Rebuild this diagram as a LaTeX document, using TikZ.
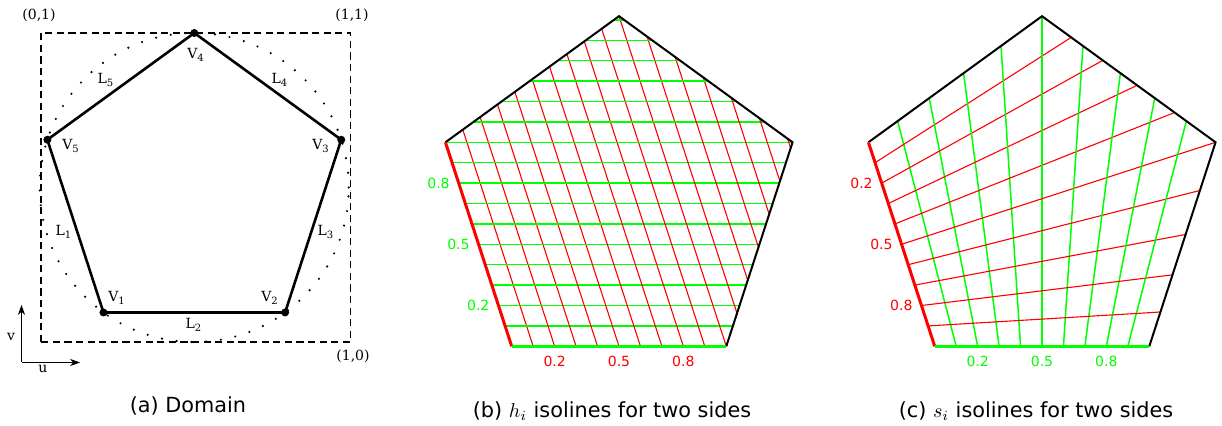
\documentclass[tikz,border=0pt]{standalone}
\usepackage{fontspec}
\setmainfont{DejaVu Sans}
\newfontfamily\lblfont{DejaVu Serif}
\usetikzlibrary{calc,arrows.meta,positioning}

\tikzset{
  sqline/.style={line width=0.9pt, dash pattern=on 3.6pt off 2.2pt},
  circline/.style={line width=1.2pt, line cap=round, dash pattern=on 0pt off 7.4pt},
  pentline/.style={line width=1.3pt},
  axis/.style={line width=0.5pt, -{Stealth[length=5pt, width=3.6pt, inset=1.6pt]}},
  edge/.style={line width=1pt},
  redge/.style={red, line width=1.5pt},
  gedge/.style={green, line width=1.5pt},
  riso/.style={red, line width=0.55pt},
  giso/.style={green, line width=0.75pt},
  rlbl/.style={red, font=\fontsize{7}{8}\selectfont},
  glbl/.style={green, font=\fontsize{7}{8}\selectfont},
  dlbl/.style={font=\lblfont\fontsize{7}{8}\selectfont, inner sep=0pt},
  capt/.style={font=\fontsize{10.4}{12}\selectfont, anchor=base},
}

\begin{document}
\begin{tikzpicture}[x=0.5pt, y=0.5pt]
\useasboundingbox (0,0) rectangle (1222,426);

\coordinate (aSW) at (41,84);
\coordinate (aNE) at (350.5,393);
\coordinate (aNW) at (41,393);
\coordinate (aSE) at (350.5,84);
\draw[sqline] (aSW) rectangle (aNE);
\begin{scope}[shift={(194.3,238.5)}]
  \draw[circline] (0,0) circle[radius=154.5];
  \foreach \n/\a in {1/234,2/306,3/18,4/90,5/162}
    \coordinate (aV\n) at (\a:154.5);
  \draw[pentline] (aV1) -- (aV2) -- (aV3) -- (aV4) -- (aV5) -- cycle;
  \foreach \n in {1,...,5}
    \fill (aV\n) circle[radius=2pt];
\end{scope}
\node[dlbl] (lV4) at (196,371) {V\textsubscript{4}};
\node[dlbl] (lV5) at (71,280) {V\textsubscript{5}};
\node[dlbl] (lV3) at (321,280) {V\textsubscript{3}};
\node[dlbl] (lV1) at (117,128) {V\textsubscript{1}};
\node[dlbl] (lV2) at (270,128) {V\textsubscript{2}};
\node[dlbl] (lL5) at (106,346) {L\textsubscript{5}};
\node[dlbl] (lL4) at (280,346) {L\textsubscript{4}};
\node[dlbl] (lL1) at (64,194) {L\textsubscript{1}};
\node[dlbl] (lL3) at (326,194) {L\textsubscript{3}};
\node[dlbl] (lL2) at (194,101) {L\textsubscript{2}};
\node[dlbl] (c01) at (39,411) {(0,1)};
\node[dlbl] (c11) at (352,411) {(1,1)};
\node[dlbl] (c10) at (353,70) {(1,0)};
\coordinate (axO) at (21.5,63.5);
\coordinate (axV) at (21.5,121);
\coordinate (axU) at (80,63.5);
\draw[axis] (axO) -- (axV);
\draw[axis] (axO) -- (axU);
\node[dlbl] (lv) at (11,89) {v};
\node[dlbl] (lu) at (43,57) {u};

\begin{scope}[shift={(619,227.3)}]
  \foreach \n/\a in {1/234,2/306,3/18,4/90,5/162}
    \coordinate (bV\n) at (\a:182.5);
  \begin{scope}
    \clip (bV1) -- (bV2) -- (bV3) -- (bV4) -- (bV5) -- cycle;
    \foreach \k in {1,...,16} {
      \draw[riso] ($(bV1)!\k/10!(bV2)$) ++(-72:400) -- ++(108:800);
      \draw[giso] ($(bV1)!\k/10!(bV5)$) ++(-400,0) -- ++(800,0);
    }
  \end{scope}
  \draw[edge] (bV2) -- (bV3) -- (bV4) -- (bV5);
  \draw[redge] (bV5) -- (bV1);
  \draw[gedge] (bV1) -- (bV2);
  \foreach \k in {2,5,8} {
    \node[glbl, anchor=east, xshift=-1pt] (bh\k) at ($(bV1)!\k/10!(bV5)$) {0.\k};
    \node[rlbl, anchor=north, yshift=-1.5pt] (bl\k) at ($(bV1)!\k/10!(bV2)$) {0.\k};
  }
\end{scope}

\begin{scope}[shift={(1042,227.3)}]
  \foreach \n/\a in {1/234,2/306,3/18,4/90,5/162}
    \coordinate (cV\n) at (\a:182.5);
  \coordinate (cP) at (270:{2.618*182.5});
  \coordinate (cQ) at (198:{2.618*182.5});
  \begin{scope}
    \clip (cV1) -- (cV2) -- (cV3) -- (cV4) -- (cV5) -- cycle;
    \foreach \k in {1,...,9} {
      \coordinate (cB) at ($(cV1)!\k/10!(cV2)$);
      \coordinate (cC) at ($(cV5)!\k/10!(cV1)$);
      \draw[giso] (cP) -- ($(cP)!2.3!(cB)$);
      \draw[riso] (cQ) -- ($(cQ)!2.6!(cC)$);
    }
  \end{scope}
  \draw[edge] (cV2) -- (cV3) -- (cV4) -- (cV5);
  \draw[redge] (cV5) -- (cV1);
  \draw[gedge] (cV1) -- (cV2);
  \foreach \k in {2,5,8} {
    \node[rlbl, anchor=east, xshift=-1pt] (cs\k) at ($(cV5)!\k/10!(cV1)$) {0.\k};
    \node[glbl, anchor=north, yshift=-1.5pt] (ct\k) at ($(cV1)!\k/10!(cV2)$) {0.\k};
  }
\end{scope}

\node[capt] (capA) at (188,13) {(a) Domain};
\node[capt] (capB) at (612,8) {(b) $h_i$ isolines for two sides};
\node[capt] (capC) at (1036,8) {(c) $s_i$ isolines for two sides};
\end{tikzpicture}
\end{document}
